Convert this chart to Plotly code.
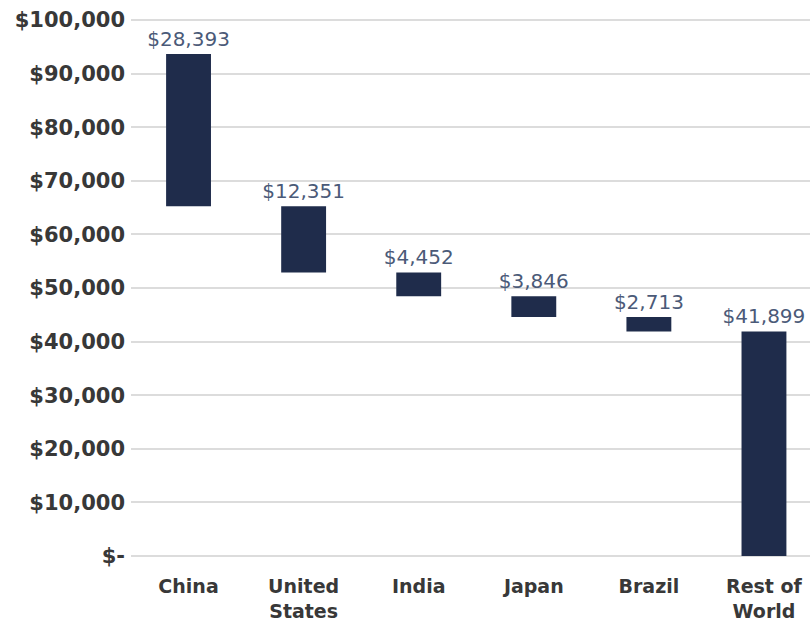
import plotly.graph_objects as go

categories = ["China", "United<br>States", "India", "Japan", "Brazil", "Rest of<br>World"]
values = [28393, 12351, 4452, 3846, 2713, 41899]
tick_vals = [0, 10000, 20000, 30000, 40000, 50000, 60000, 70000, 80000, 90000, 100000]
tick_text = ["$-", "$10,000", "$20,000", "$30,000", "$40,000", "$50,000",
             "$60,000", "$70,000", "$80,000", "$90,000", "$100,000"]

total = sum(values)
bases = []
remaining = total
for v in values:
    remaining -= v
    bases.append(remaining)

fig = go.Figure(go.Bar(
    x=categories, y=values, base=bases,
    marker=dict(color="#1f2c4b", line=dict(width=0)),
    text=[f"${v:,}" for v in values],
    textposition="outside",
    constraintext="none",
    textfont=dict(family="DejaVu Sans", size=20, color="#4b5a78"),
    cliponaxis=False,
))

fig.update_layout(
    width=810, height=624,
    margin=dict(l=131, r=0, t=18, b=65),
    paper_bgcolor="white", plot_bgcolor="white",
    bargap=0.61,
    showlegend=False,
    xaxis=dict(range=[-0.5, 5.4],
               tickfont=dict(family="DejaVu Sans", size=19, color="#383838", weight="bold"),
               showgrid=False, showline=False, ticks="", ticklabelstandoff=14),
    yaxis=dict(range=[-560, 100373], tickvals=tick_vals, ticktext=tick_text,
               tickfont=dict(family="DejaVu Sans", size=21, color="#383838", weight="bold"),
               showgrid=True, gridcolor="#dcdcdc", gridwidth=2,
               zeroline=False, showline=False, ticks="", ticklabelstandoff=5),
)
fig.write_html("out.html")
